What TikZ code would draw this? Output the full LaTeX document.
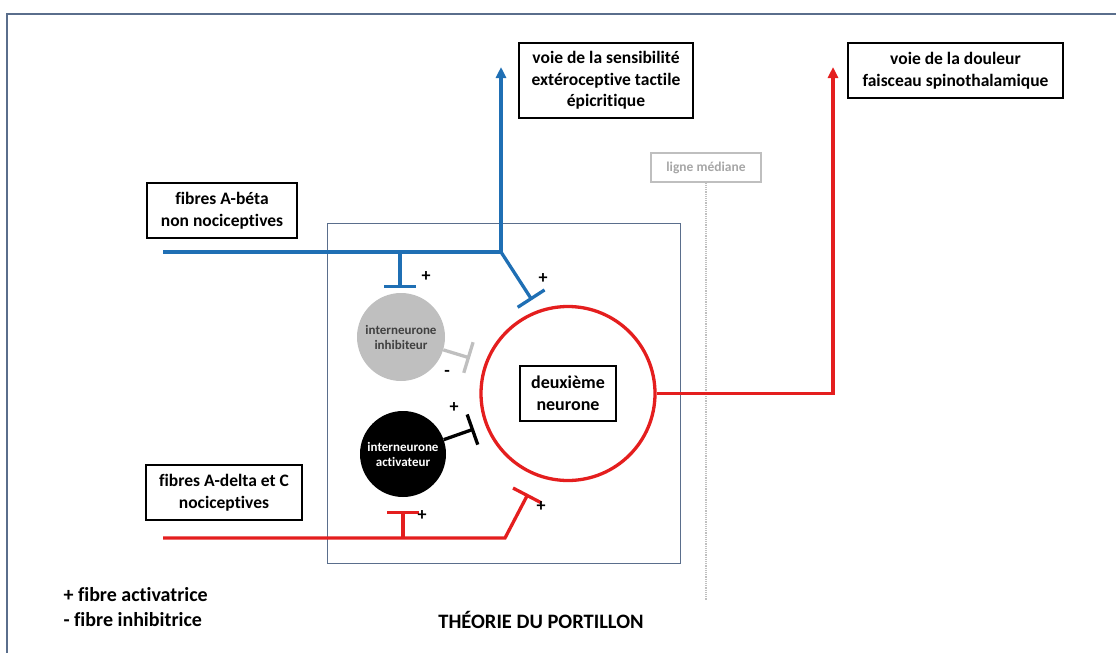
\documentclass[tikz,border=0pt]{standalone}
\usepackage{fontspec}
\setmainfont{Carlito}[Ligatures=NoCommon]
\usetikzlibrary{arrows.meta,positioning}
\definecolor{fibblue}{HTML}{1F6FB4}
\definecolor{fibred}{HTML}{E41E1E}
\definecolor{framecol}{HTML}{5A6E8C}
\definecolor{intergray}{HTML}{BFBFBF}
\tikzset{
  lab/.style={draw=black, line width=1.2pt, align=center, inner sep=0pt,
    font=\bfseries\fontsize{17.5}{21.5}\selectfont},
  fib/.style={line width=3.3pt},
  bluefib/.style={fib, fibblue},
  redfib/.style={fib, fibred},
  grayfib/.style={fib, intergray},
  blackfib/.style={fib, black},
  tbar/.style={-{Bar[width=32pt]}},
  uparrow/.style={-{Triangle[length=11pt,width=10pt]}},
  inter/.style={circle, inner sep=0pt, align=center,
    font=\bfseries\fontsize{13}{15}\selectfont},
  sign/.style={font=\bfseries\fontsize{18}{18}\selectfont},
}
\begin{document}
\begin{tikzpicture}[x=1pt, y=-1pt]
\useasboundingbox (0,0) rectangle (1116,653);
\draw[framecol, line width=1.2pt] (7,653) -- (7,14) -- (1116,14);
\draw[framecol, line width=1pt] (327,223) rectangle (680,563);

\node[lab, minimum width=174pt, minimum height=75pt] (tactile) at (606,80.5) {voie de la sensibilité\\extéroceptive tactile\\épicritique};
\node[lab, minimum width=215pt, minimum height=55pt] (douleur) at (955.5,70.5) {voie de la douleur\\faisceau spinothalamique};
\node[lab, minimum width=150pt, minimum height=55pt] (abeta) at (222,210.5) {fibres A-béta\\non nociceptives};
\node[lab, minimum width=156pt, minimum height=55pt] (adelta) at (224,492.5) {fibres A-delta et C\\nociceptives};
\node[draw=intergray, line width=1.2pt, text=black!35, minimum width=110pt, minimum height=29pt, inner sep=0pt,
  font=\bfseries\fontsize{13.5}{13.5}\selectfont] (median) at (706,167.5) {ligne médiane};

\node[inter, fill=intergray, text=black!75, minimum size=88pt] (inhib) at (401,337) {interneurone\\inhibiteur};
\node[inter, fill=black, text=white, minimum size=86pt] (activ) at (403,454) {interneurone\\activateur};
\node[circle, draw=fibred, line width=3.3pt, minimum size=174pt] (neur) at (568,393.5) {};
\node[lab, minimum width=96pt, minimum height=55pt, font=\bfseries\fontsize{18}{22}\selectfont] (neurtxt) at (neur.center) {deuxième\\neurone};

\coordinate (abin) at (163,252);
\coordinate (jbInh) at (400,252);
\coordinate (jb) at (501,252);
\coordinate (btop) at (501,67);
\coordinate (bInh) at (400,288);
\coordinate (bNeur) at (532,300);
\coordinate (gNeur) at (470,358);
\coordinate (aNeur) at (474,429);
\coordinate (adin) at (163,538);
\coordinate (jrAct) at (403,538);
\coordinate (jr) at (505,538);
\coordinate (rAct) at (403,511);
\coordinate (rNeur) at (528,494);
\coordinate (rtop) at (833,67);
\coordinate (rcorner) at (neur.east -| rtop);
\coordinate (mbot) at (706,600);

\draw[densely dotted, black!25, line width=1.2pt] (median.south) -- (mbot);
\draw[bluefib] (abin) -- (jb);
\draw[bluefib, uparrow] (jb) -- (btop);
\draw[bluefib, tbar] (jbInh) -- (bInh);
\draw[bluefib, tbar] (jb) -- (bNeur);
\draw[grayfib, tbar] (inhib) -- (gNeur);
\draw[blackfib, tbar] (activ) -- (aNeur);
\draw[redfib, tbar] (adin) -- (jr) -- (rNeur);
\draw[redfib, tbar] (jrAct) -- (rAct);
\draw[redfib, uparrow] (neur.east) -- (rcorner) -- (rtop);

\node[sign] (s1) at (426,277) {+};
\node[sign] (s2) at (543,279) {+};
\node[sign] (s3) at (447,373) {-};
\node[sign] (s4) at (454,408) {+};
\node[sign] (s5) at (422,516) {+};
\node[sign] (s6) at (541,507) {+};

\node[anchor=west, font=\bfseries\fontsize{20}{20}\selectfont] (leg1) at (60,595) {+ fibre activatrice};
\node[anchor=west, font=\bfseries\fontsize{20}{20}\selectfont] (leg2) at (60,620) {- fibre inhibitrice};
\node[font=\bfseries\fontsize{20.5}{20.5}\selectfont] (title) at (541,620) {THÉORIE DU PORTILLON};
\end{tikzpicture}
\end{document}
